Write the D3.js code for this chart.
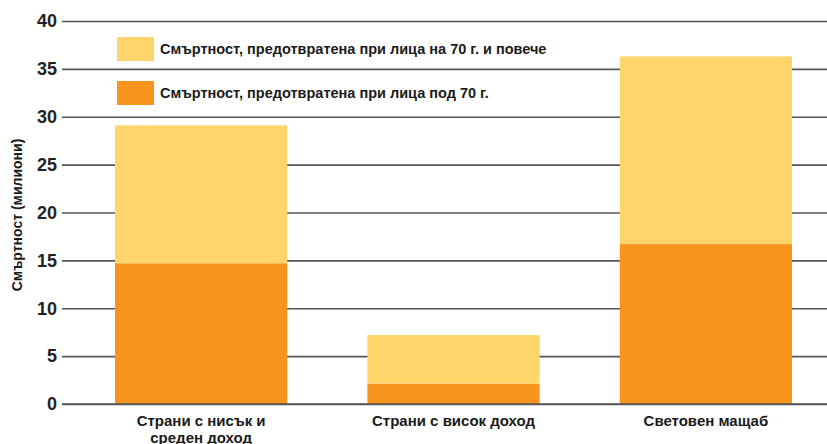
<!DOCTYPE html>
<html>
<head>
<meta charset="utf-8">
<script src="https://cdn.jsdelivr.net/npm/d3@7"></script>
<style>
body{margin:0;background:#fff;}
svg{font-family:"Liberation Sans Narrow","Arial Narrow","Liberation Sans",sans-serif;font-weight:bold;}
</style>
</head>
<body>
<svg id="chart" width="827" height="444"></svg>
<script>
// данни
var categories = [["Страни с нисък и", "среден доход"], ["Страни с висок доход"], ["Световен мащаб"]];
var under70 = [14.7, 2.1, 16.7];
var over70 = [14.4, 5.1, 19.6];
var yTicks = [0, 5, 10, 15, 20, 25, 30, 35, 40];
var legendLabels = ["Смъртност, предотвратена при лица на 70 г. и повече", "Смъртност, предотвратена при лица под 70 г."];
var colors = ["#FDD56A", "#F7941E"];

var svg = d3.select("#chart");
var mLeft = 62, mRight = 827, mTop = 21, mBottom = 404;

var xScale = d3.scaleBand()
	.domain(d3.range(categories.length))
	.range([115, 792])
	.paddingInner(80 / 252).paddingOuter(0);

var yScale = d3.scaleLinear().domain([0, 40]).range([mBottom, mTop]);

// решетка
svg.append("g")
	.attr("transform", "translate(" + mLeft + ",0)")
	.call(d3.axisLeft(yScale).tickValues(yTicks).tickSize(-(mRight - mLeft)).tickPadding(6))
	.call(function(g){
		g.select(".domain").remove();
		g.selectAll(".tick line").attr("stroke", "#555").attr("stroke-width", 1.6);
		g.selectAll(".tick text").attr("fill", "#222").style("font-size", "18px").style("font-weight", "bold")
			.attr("x", -5).style("font-family", "'Liberation Sans Narrow','Liberation Sans',sans-serif");
	});

// легенда
var legend = svg.append("g");
legendLabels.forEach(function(l, i){
	var y = 37 + i * 44;
	legend.append("rect").attr("x", 117).attr("y", y).attr("width", 37).attr("height", 24)
		.attr("fill", colors[i]);
	legend.append("text").attr("x", 160).attr("y", y + 17).text(l)
		.style("font-size", "14.5px").attr("fill", "#1a1a1a");
});

// ленти
var stacks = [under70, over70];
categories.forEach(function(c, i){
	var base = 0;
	stacks.forEach(function(s, k){
		var v = s[i];
		svg.append("rect")
			.attr("x", xScale(i))
			.attr("width", xScale.bandwidth())
			.attr("y", yScale(base + v))
			.attr("height", yScale(base) - yScale(base + v))
			.attr("fill", colors[1 - k]);
		base += v;
	});
});

// ос x
svg.append("line").attr("x1", mLeft).attr("x2", mRight).attr("y1", mBottom).attr("y2", mBottom)
	.attr("stroke", "#555").attr("stroke-width", 1.6);

categories.forEach(function(c, i){
	var cx = xScale(i) + xScale.bandwidth() / 2;
	var t = svg.append("text")
		.attr("x", cx)
		.attr("y", 426)
		.attr("text-anchor", "middle")
		.style("font-size", "15px").attr("fill", "#1a1a1a");
	c.forEach(function(line, j){
		t.append("tspan").attr("x", cx).attr("dy", j == 0 ? 0 : 17).text(line);
	});
});

svg.append("text")
	.attr("transform", "translate(22,215) rotate(-90)")
	.attr("text-anchor", "middle")
	.style("font-size", "14px").attr("fill", "#1a1a1a")
	.text("Смъртност (милиони)");
</script>
</body>
</html>
